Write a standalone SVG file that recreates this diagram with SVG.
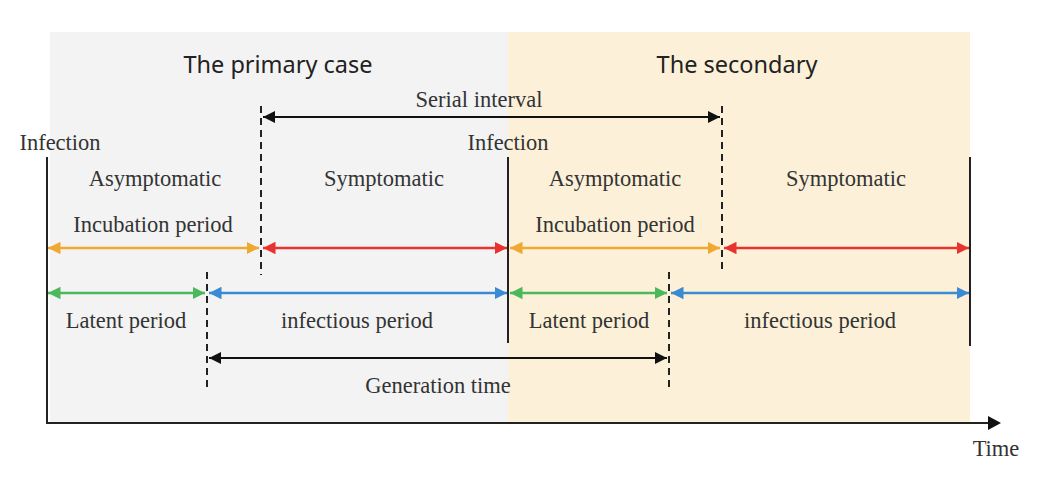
<svg xmlns="http://www.w3.org/2000/svg" width="1055" height="482" viewBox="0 0 1055 482">
<style>
.s{font-family:"Liberation Serif",serif;font-size:22.5px;fill:#333;text-anchor:middle}
.h{font-family:"Noto Sans","Open Sans",sans-serif;font-size:23.5px;fill:#222;text-anchor:middle}
.ln{stroke:#222;stroke-width:2;fill:none}
.d{stroke:#222;stroke-width:2;stroke-dasharray:7,5;fill:none}
</style>
<defs>
<marker id="ao" viewBox="0 0 10 10" refX="10" refY="5" markerWidth="5" markerHeight="5" orient="auto-start-reverse"><path d="M0,0L10,5L0,10z" fill="#f0a830"/></marker>
<marker id="ar" viewBox="0 0 10 10" refX="10" refY="5" markerWidth="5" markerHeight="5" orient="auto-start-reverse"><path d="M0,0L10,5L0,10z" fill="#e8332f"/></marker>
<marker id="ag" viewBox="0 0 10 10" refX="10" refY="5" markerWidth="5" markerHeight="5" orient="auto-start-reverse"><path d="M0,0L10,5L0,10z" fill="#4cb85c"/></marker>
<marker id="ab" viewBox="0 0 10 10" refX="10" refY="5" markerWidth="5" markerHeight="5" orient="auto-start-reverse"><path d="M0,0L10,5L0,10z" fill="#3a8ad4"/></marker>
<marker id="ak" viewBox="0 0 10 10" refX="10" refY="5" markerWidth="6" markerHeight="6" orient="auto-start-reverse"><path d="M0,0L10,5L0,10z" fill="#111"/></marker>
</defs>
<rect width="1055" height="482" fill="#fff"/>
<g id="primary"><rect x="50" y="32" width="458" height="390" fill="#f3f3f3"/><text class="h" x="278" y="73">The primary case</text></g>
<g id="secondary"><rect x="508" y="32" width="462" height="390" fill="#fcf1d8"/><text class="h" x="737" y="73">The secondary</text></g>
<g id="connectors">
<path class="ln" d="M47,157V423H990"/>
<path d="M988,416L1001,423L988,430z" fill="#111"/>
<path class="ln" d="M508,157V343M970,157V346"/>
<path class="d" d="M261,106V275M722,106V274M207,272V388M669,272V388"/>
<line x1="263" y1="117" x2="720" y2="117" stroke="#111" stroke-width="2" marker-start="url(#ak)" marker-end="url(#ak)"/>
<line x1="209" y1="358" x2="667" y2="358" stroke="#111" stroke-width="2" marker-start="url(#ak)" marker-end="url(#ak)"/>
<line x1="48" y1="248" x2="259" y2="248" stroke="#f0a830" stroke-width="2.5" marker-start="url(#ao)" marker-end="url(#ao)"/>
<line x1="263" y1="248" x2="507" y2="248" stroke="#e8332f" stroke-width="2.5" marker-start="url(#ar)" marker-end="url(#ar)"/>
<line x1="510" y1="248" x2="720" y2="248" stroke="#f0a830" stroke-width="2.5" marker-start="url(#ao)" marker-end="url(#ao)"/>
<line x1="724" y1="248" x2="969" y2="248" stroke="#e8332f" stroke-width="2.5" marker-start="url(#ar)" marker-end="url(#ar)"/>
<line x1="48" y1="293" x2="205" y2="293" stroke="#4cb85c" stroke-width="2.5" marker-start="url(#ag)" marker-end="url(#ag)"/>
<line x1="209" y1="293" x2="507" y2="293" stroke="#3a8ad4" stroke-width="2.5" marker-start="url(#ab)" marker-end="url(#ab)"/>
<line x1="510" y1="293" x2="667" y2="293" stroke="#4cb85c" stroke-width="2.5" marker-start="url(#ag)" marker-end="url(#ag)"/>
<line x1="671" y1="293" x2="969" y2="293" stroke="#3a8ad4" stroke-width="2.5" marker-start="url(#ab)" marker-end="url(#ab)"/>
</g>
<g id="labels">
<text class="s" x="479" y="107">Serial interval</text>
<text class="s" x="60" y="150">Infection</text>
<text class="s" x="508" y="150">Infection</text>
<text class="s" x="155" y="186">Asymptomatic</text>
<text class="s" x="384" y="186">Symptomatic</text>
<text class="s" x="615" y="186">Asymptomatic</text>
<text class="s" x="846" y="186">Symptomatic</text>
<text class="s" x="153" y="232">Incubation period</text>
<text class="s" x="615" y="232">Incubation period</text>
<text class="s" x="126" y="328">Latent period</text>
<text class="s" x="357" y="328">infectious period</text>
<text class="s" x="589" y="328">Latent period</text>
<text class="s" x="820" y="328">infectious period</text>
<text class="s" x="438" y="393">Generation time</text>
<text class="s" x="996" y="456">Time</text>
</g>
</svg>
